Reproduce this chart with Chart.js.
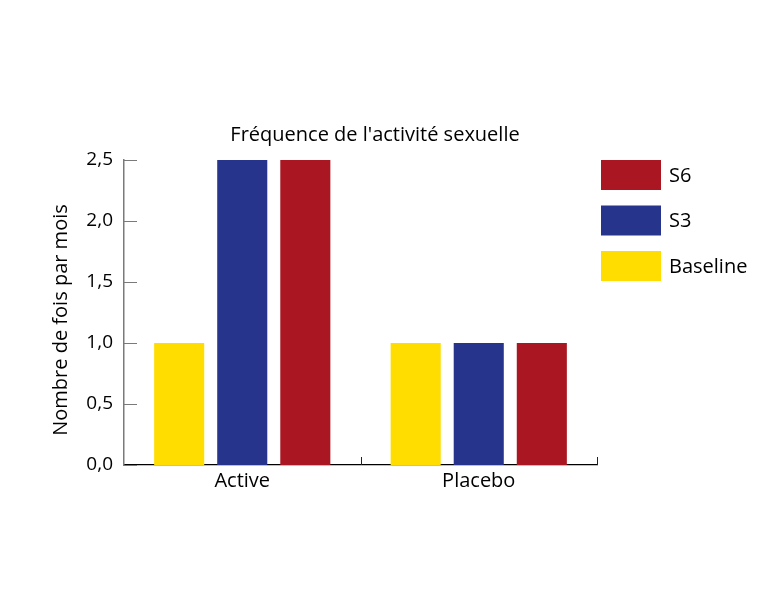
<!DOCTYPE html>
<html>
<head>
<meta charset="utf-8">
<script src="https://cdn.jsdelivr.net/npm/chart.js@4/dist/chart.umd.min.js"></script>
<style>
  html, body { margin: 0; padding: 0; background: #fff; }
  #wrap { width: 780px; height: 608px; }
</style>
</head>
<body>
<div id="wrap"><canvas id="chart" width="780" height="608"></canvas></div>
<script>
  // données
  const categories = ["Active", "Placebo"];
  const baseline = [1.0, 1.0];
  const s3 = [2.5, 1.0];
  const s6 = [2.5, 1.0];
  const yTicks = [0, 0.5, 1.0, 1.5, 2.0, 2.5];

  const FONT = "'Open Sans', 'Noto Sans', sans-serif";

  // petits traits vers l'intérieur, titres et légende à droite
  const decor = {
    id: "decor",
    afterDraw(chart) {
      const c = chart.ctx;
      const y = chart.scales.y;
      const x = chart.scales.x;
      const area = chart.chartArea;
      c.save();
      c.lineWidth = 1;
      c.strokeStyle = "#7a7a7a";
      yTicks.forEach((v) => {
        const py = Math.round(y.getPixelForValue(v)) + 0.5;
        c.beginPath();
        c.moveTo(area.left, py);
        c.lineTo(area.left + 13, py);
        c.stroke();
      });
      c.strokeStyle = "#222";
      for (let i = 1; i <= categories.length; i++) {
        const px = Math.round(x.getPixelForValue(i - 0.5)) + 0.5;
        c.beginPath();
        c.moveTo(px, area.bottom);
        c.lineTo(px, area.bottom - 8);
        c.stroke();
      }

      // titre
      c.fillStyle = "#000";
      c.font = "20px " + FONT;
      c.textAlign = "center";
      c.textBaseline = "middle";
      c.fillText("Fréquence de l'activité sexuelle", 375, 135);

      // titre de l'axe y
      c.save();
      c.translate(61, 320);
      c.rotate(-Math.PI / 2);
      c.fillText("Nombre de fois par mois", 0, 0);
      c.restore();

      // légende (ordre inversé)
      const ds = chart.data.datasets.slice().reverse();
      c.textAlign = "left";
      ds.forEach((d, i) => {
        const top = 160 + i * 45.5;
        c.fillStyle = d.backgroundColor;
        c.fillRect(601, top, 60, 30);
        c.fillStyle = "#000";
        c.fillText(d.label, 669, top + 16);
      });
      c.restore();
    }
  };

  new Chart(document.getElementById("chart"), {
    type: "bar",
    data: {
      labels: categories,
      datasets: [
        { label: "Baseline", data: baseline, backgroundColor: "#FFDD00" },
        { label: "S3", data: s3, backgroundColor: "#27348B" },
        { label: "S6", data: s6, backgroundColor: "#AA1722" },
      ],
    },
    options: {
      responsive: false,
      animation: false,
      devicePixelRatio: 1,
      layout: {
        padding: { left: 0, right: 183, top: 160, bottom: 103 },
      },
      datasets: {
        bar: {
          categoryPercentage: 0.8,
          barPercentage: 0.794,
        },
      },
      plugins: {
        legend: { display: false },
        title: { display: false },
        tooltip: { enabled: false },
      },
      scales: {
        x: {
          offset: true,
          grid: { display: false, drawTicks: false },
          border: { display: true, color: "#000", width: 1.2 },
          ticks: {
            color: "#000",
            font: { family: FONT, size: 20 },
            padding: 4,
          },
          afterFit: (s) => { s.height = 40; },
        },
        y: {
          min: 0,
          max: 2.5,
          grid: { display: false, drawTicks: false },
          border: { display: true, color: "#7a7a7a", width: 1.5 },
          afterBuildTicks: (s) => { s.ticks = yTicks.map((v) => ({ value: v })); },
          ticks: {
            color: "#000",
            font: { family: FONT, size: 19 },
            padding: 11,
            callback: (v) => Number(v).toFixed(1).replace(".", ","),
          },
          afterFit: (s) => { s.width = 124; },
        },
      },
    },
    plugins: [decor],
  });
</script>
</body>
</html>
